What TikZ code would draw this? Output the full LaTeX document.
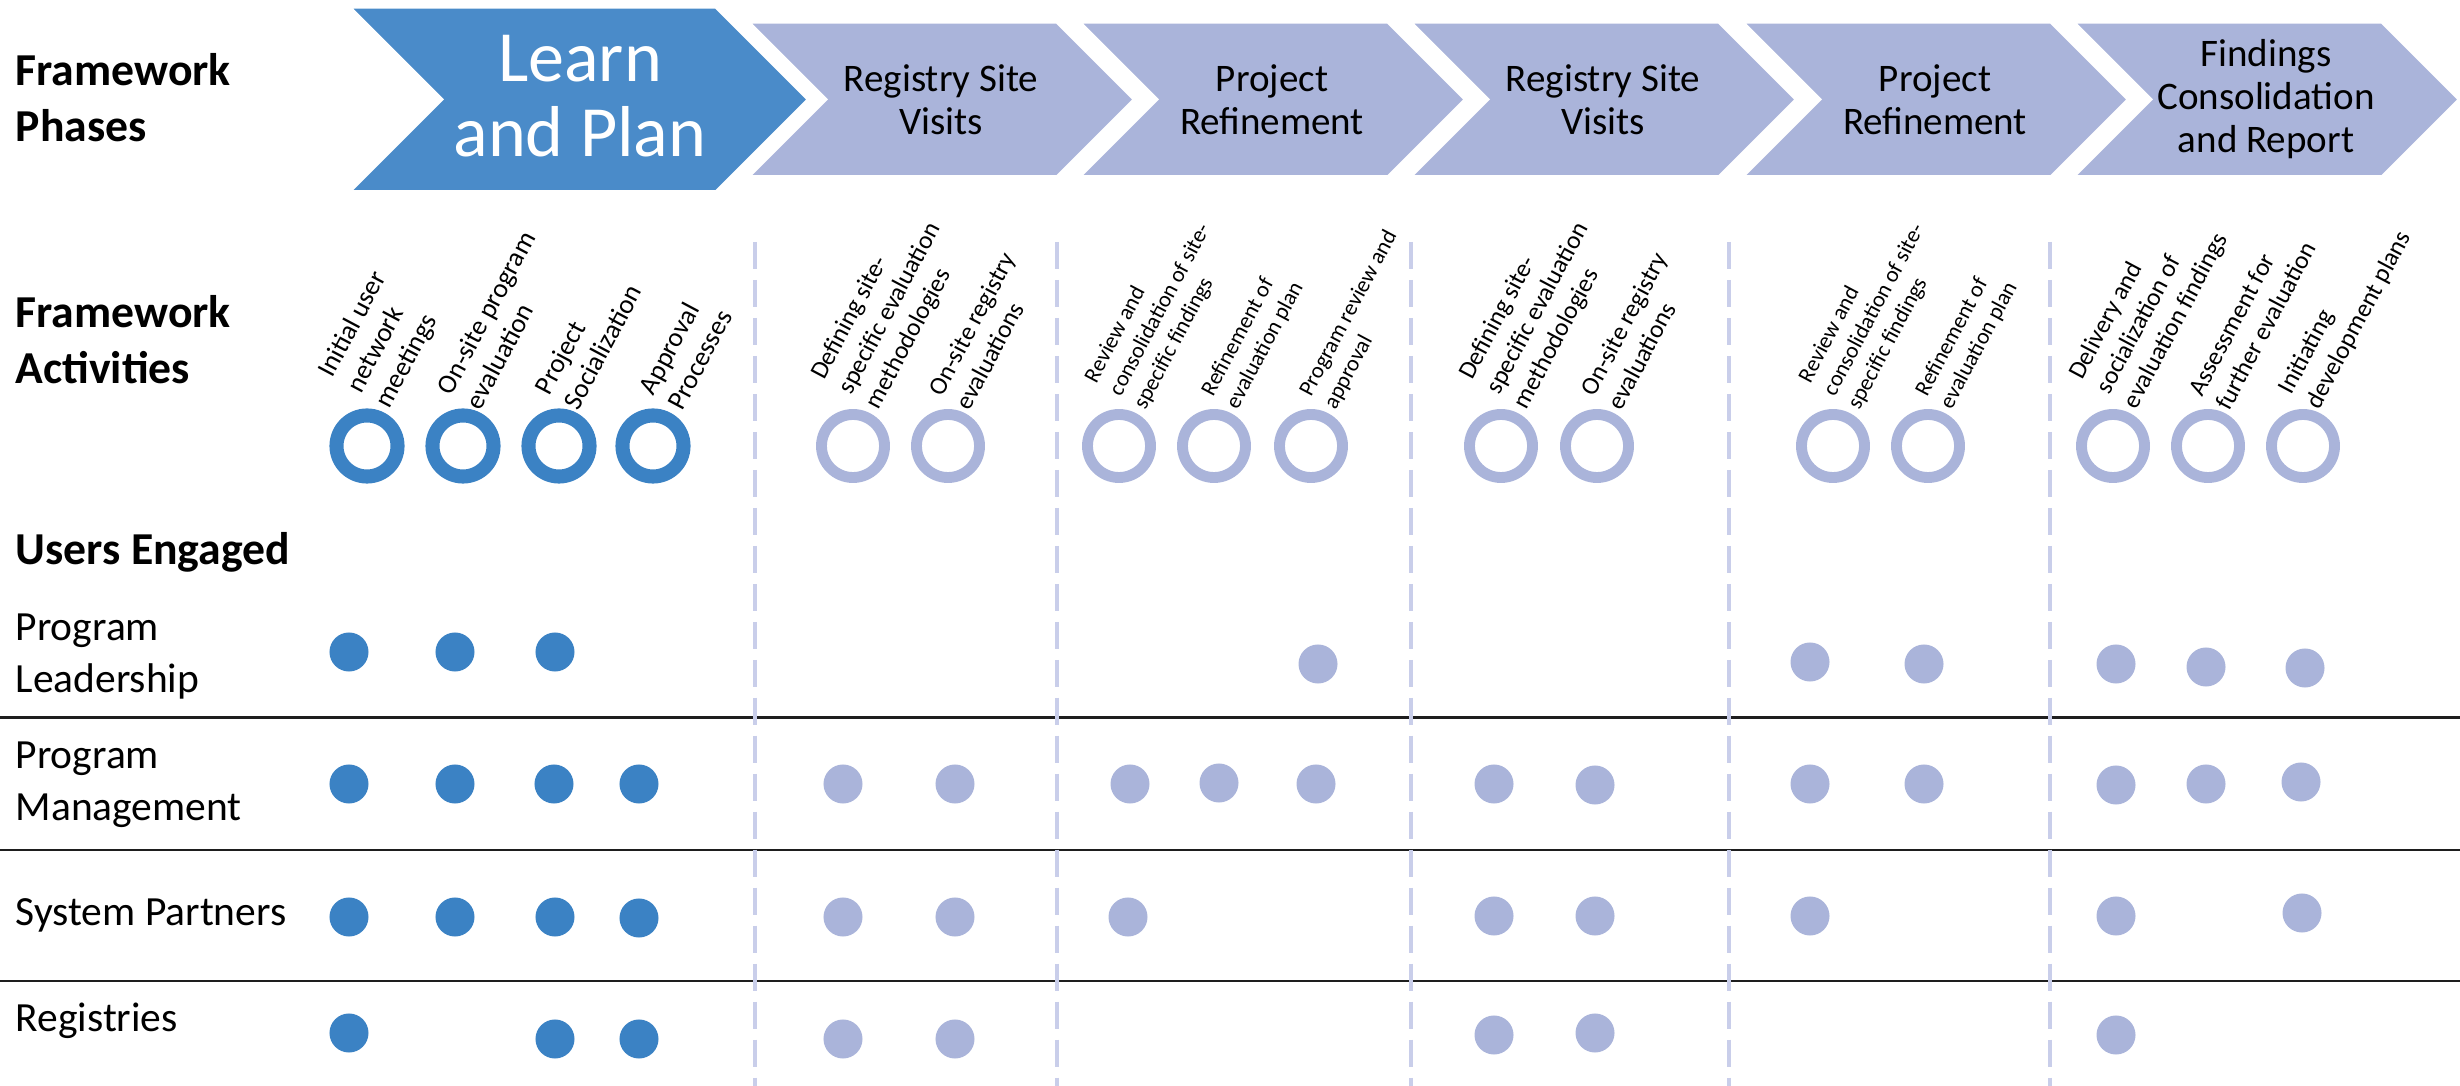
\documentclass[tikz,border=0pt]{standalone}
\usepackage{fontspec}
\setmainfont{Carlito}
\usetikzlibrary{positioning}
\definecolor{cdark}{HTML}{3B82C4}
\definecolor{clearn}{HTML}{4A8BC9}
\definecolor{clight}{HTML}{AAB4DA}
\definecolor{cdash}{HTML}{C9CEEA}
\definecolor{crule}{HTML}{1E1E1E}

\begin{document}
\begin{tikzpicture}[x=0.01cm,y=-0.01cm,
  head/.style={anchor=west,align=left,inner sep=0pt,font=\fontsize{13}{16}\selectfont\bfseries},
  user/.style={anchor=west,align=left,inner sep=0pt,font=\fontsize{11.8}{14.8}\selectfont},
  chev/.style={fill=clight,draw=white,line width=1pt},
  phase/.style={align=center,inner sep=0pt,font=\fontsize{11.1}{12.2}\selectfont},
  ringd/.style={circle,draw=cdark,line width=4pt,minimum size=0.61cm,inner sep=0pt},
  ringl/.style={circle,draw=clight,line width=3.1pt,minimum size=0.63cm,inner sep=0pt},
  dotd/.style={circle,fill=cdark,minimum size=0.39cm,inner sep=0pt},
  dotl/.style={circle,fill=clight,minimum size=0.39cm,inner sep=0pt},
  act/.style={rotate=62,anchor=south west,align=left,inner sep=0pt},
  actd/.style={act,font=\fontsize{7.7}{9.2}\selectfont},
  actl/.style={act,font=\fontsize{7.2}{8.8}\selectfont},
  acts/.style={act,font=\fontsize{6.4}{7.9}\selectfont},
  sep/.style={crule,line width=0.85pt},
  col/.style={cdash,line width=1.1pt,dash pattern=on 7.7pt off 3.1pt}]
  \useasboundingbox (0,0) rectangle (2460,1086);

  % phase chevrons
  \filldraw[chev,fill=clearn] (349,7) -- (716,7) -- (808.5,99.5) -- (716,192)
    -- (349,192) -- (441.5,99.5) -- cycle;
  \node[phase,text=white,font=\fontsize{20.5}{21.3}\selectfont] (learn) at (580,96) {Learn\\and Plan};
  \foreach \l/\nm/\txt in {748/rsvA/{Registry Site\\Visits},1079/refA/{Project\\Refinement},
      1410/rsvB/{Registry Site\\Visits},1742/refB/{Project\\Refinement},
      2073/final/{Findings\\Consolidation\\and Report}} {
    \filldraw[chev] (\l,22) -- ++(309,0) -- ++(77.5,77.5) -- ++(-77.5,77.5)
      -- ++(-309,0) -- ++(77.5,-77.5) -- cycle;
    \node[phase] (\nm) at (\l+193,99.5) {\txt};
  }

  % row labels
  \node[head] (phh) at (15,98) {Framework\\Phases};
  \node[head] (acth) at (15,340) {Framework\\Activities};
  \node[head] (useh) at (15,552) {Users Engaged};
  \node[user] (lead) at (15,657) {Program\\Leadership};
  \node[user] (mgmt) at (15,785) {Program\\Management};
  \node[user] (part) at (15,915) {System Partners};
  \node[user] (regs) at (15,1021) {Registries};

  % grid
  \foreach \y in {718,850,981}
    \draw[sep] (0,\y) -- (2460,\y);
  \foreach \x in {755,1057,1411,1729,2050}
    \draw[col] (\x,242) -- (\x,1086);

  % activities
  \foreach \x/\dx/\txt [count=\i] in {367/0.27/{Initial user\\network\\meetings},
      463/0.18/{On-site program\\evaluation},559/0.2/{Project\\Socialization},653/0.3/{Approval\\Processes}} {
    \node[ringd] (ad\i) at (\x,446) {};
    \node[actd] (td\i) at ([xshift=\dx cm,yshift=-0.04cm]ad\i.north) {\txt};
  }
  \foreach \x/\dx/\txt [count=\i] in {853/0.3/{Defining site-\\specific evaluation\\methodologies},
      948/0.22/{On-site registry\\evaluations},1501/0.3/{Defining site-\\specific evaluation\\methodologies},
      1597/0.25/{On-site registry\\evaluations},2113/0.28/{Delivery and\\socialization of\\evaluation findings},
      2208/0.22/{Assessment for\\further evaluation},2303/0.2/{Initiating\\development plans}} {
    \node[ringl] (al\i) at (\x,446) {};
    \node[actl] (tl\i) at ([xshift=\dx cm,yshift=-0.04cm]al\i.north) {\txt};
  }
  \foreach \x/\dx/\txt [count=\i] in {1119/0.3/{Review and\\consolidation of site-\\specific findings},
      1214/0.27/{Refinement of\\evaluation plan},1311/0.28/{Program review and\\approval},
      1833/0.3/{Review and\\consolidation of site-\\specific findings},1928/0.27/{Refinement of\\evaluation plan}} {
    \node[ringl] (as\i) at (\x,446) {};
    \node[acts] (ts\i) at ([xshift=\dx cm,yshift=-0.04cm]as\i.north) {\txt};
  }

  % users engaged
  \foreach \x/\y [count=\i] in {349/652,455/652,555/652,349/784,455/784,554/784,639/784,
      349/917,455/917,555/917,639/918,349/1033,555/1039,639/1039}
    \node[dotd] (dd\i) at (\x,\y) {};
  \foreach \x/\y [count=\i] in {1318/664,1810/662,1924/664,2116/664,2206/667,2305/668,
      843/784,955/784,1130/784,1219/783,1316/784,1494/784,1595/785,1810/784,1924/784,2116/785,2206/784,2301/782,
      843/917,955/917,1128/917,1494/916,1595/916,1810/916,2116/916,2302/913,
      843/1039,955/1039,1494/1035,1595/1033,2116/1035}
    \node[dotl] (dl\i) at (\x,\y) {};
\end{tikzpicture}
\end{document}
